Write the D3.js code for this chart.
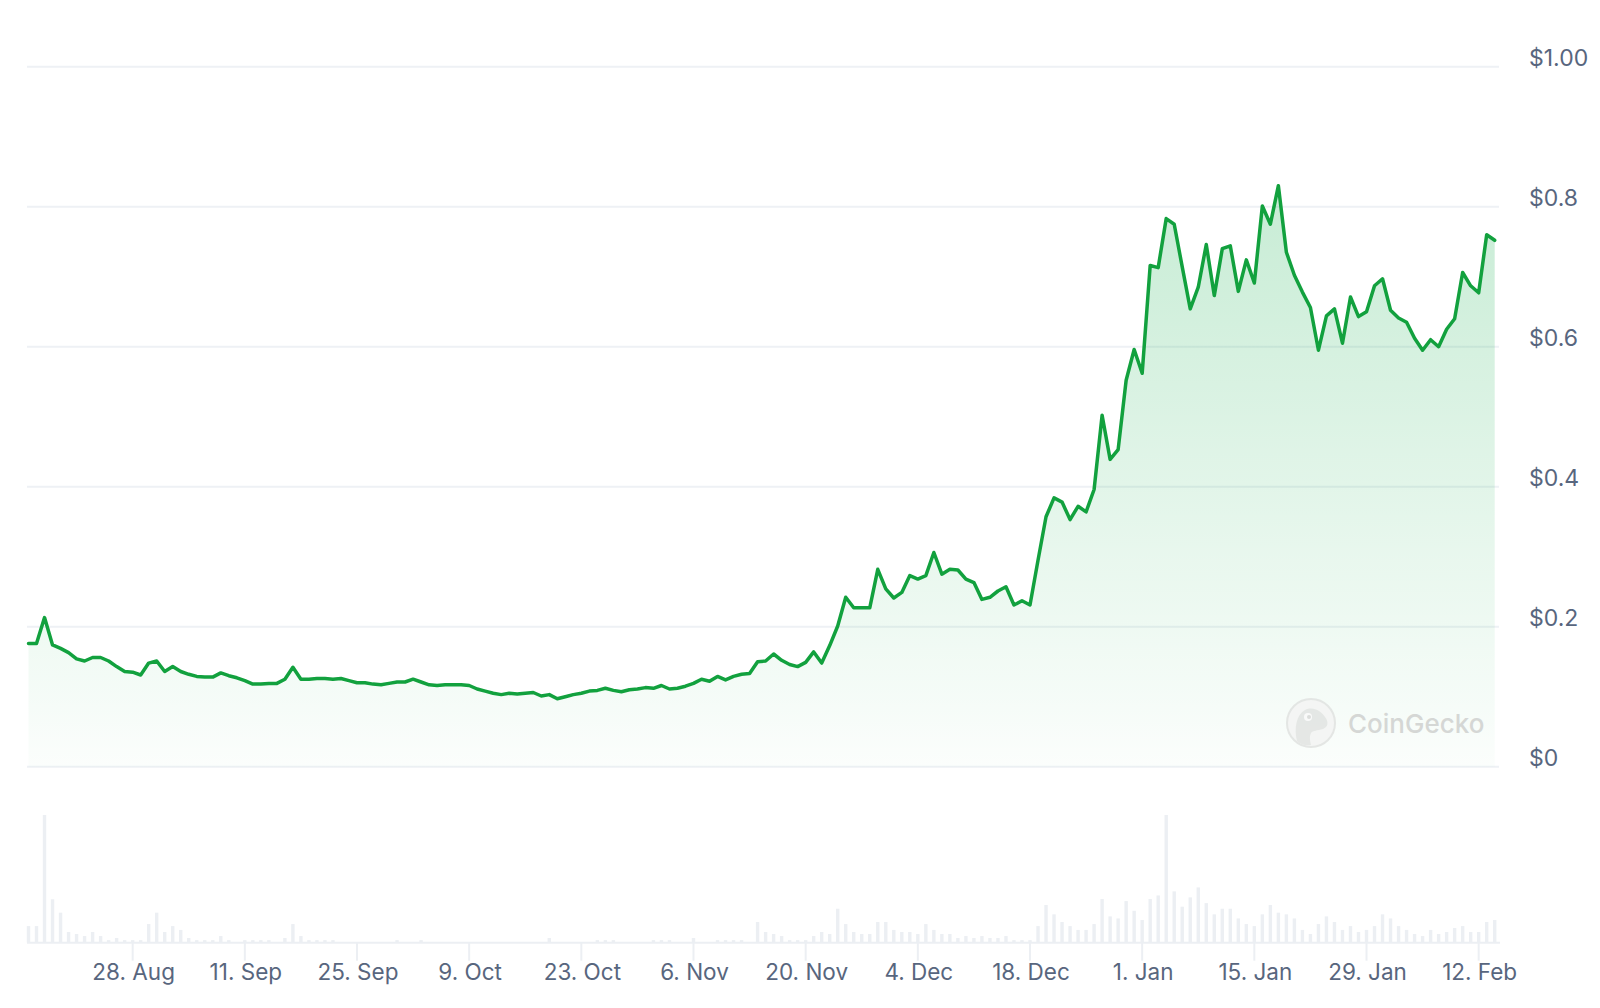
<!DOCTYPE html>
<html>
<head>
<meta charset="utf-8">
<script src="https://cdnjs.cloudflare.com/ajax/libs/d3/7.8.5/d3.min.js"></script>
<style>
  html, body { margin: 0; padding: 0; background: #fff; }
  svg { display: block; font-family: Inter, "Noto Sans", "DejaVu Sans", sans-serif; }
</style>
</head>
<body>
<div id="chart"></div>
<script>
// daily prices (USD), 15 Aug 2023 -> 14 Feb 2024
const startDay = new Date(Date.UTC(2023, 7, 15));
const prices = [
  0.176, 0.176, 0.213, 0.174, 0.169, 0.163, 0.154, 0.151, 0.156, 0.156,
  0.151, 0.143, 0.136, 0.135, 0.131, 0.148, 0.151, 0.136, 0.143, 0.136,
  0.132, 0.129, 0.128, 0.128, 0.134, 0.130, 0.127, 0.123, 0.118, 0.118,
  0.119, 0.119, 0.125, 0.142, 0.125, 0.125, 0.126, 0.126, 0.125, 0.126,
  0.123, 0.120, 0.120, 0.118, 0.117, 0.119, 0.121, 0.121, 0.125, 0.121,
  0.117, 0.116, 0.117, 0.117, 0.117, 0.116, 0.111, 0.108, 0.105, 0.103,
  0.105, 0.104, 0.105, 0.106, 0.101, 0.103, 0.097, 0.100, 0.103, 0.105,
  0.108, 0.109, 0.112, 0.109, 0.107, 0.110, 0.111, 0.113, 0.112, 0.116,
  0.111, 0.112, 0.115, 0.119, 0.125, 0.122, 0.129, 0.124, 0.129, 0.132,
  0.133, 0.150, 0.151, 0.161, 0.152, 0.146, 0.143, 0.149, 0.164, 0.148,
  0.173, 0.201, 0.242, 0.227, 0.227, 0.227, 0.282, 0.254, 0.241, 0.249,
  0.273, 0.268, 0.273, 0.306, 0.275, 0.282, 0.281, 0.268, 0.263, 0.239,
  0.242, 0.251, 0.257, 0.231, 0.237, 0.231, 0.295, 0.357, 0.384, 0.378,
  0.353, 0.372, 0.364, 0.396, 0.502, 0.439, 0.453, 0.552, 0.596, 0.562,
  0.716, 0.713, 0.783, 0.775, 0.714, 0.654, 0.685, 0.746, 0.673, 0.740,
  0.744, 0.679, 0.724, 0.691, 0.801, 0.775, 0.830, 0.735, 0.702, 0.678,
  0.656, 0.595, 0.644, 0.654, 0.605, 0.671, 0.643, 0.650, 0.687, 0.697,
  0.652, 0.641, 0.635, 0.612, 0.595, 0.610, 0.600, 0.625, 0.640, 0.706,
  0.687, 0.677, 0.760, 0.752
];
// traded volume, relative units (tallest day = 100)
const volumes = [
  13, 13, 100, 34, 23.5, 8.4, 6.8, 5.2, 8.4, 5.2,
  2, 3.7, 2, 2, 2, 14.6, 23.5, 8.4, 13, 10,
  3.7, 2, 2, 2, 5.2, 2, 0.5, 2, 2, 2,
  2, 0.5, 3.7, 14.6, 5.2, 2, 2, 2, 2, 0.3,
  0.3, 0.3, 0.3, 0.3, 0.3, 0.3, 2, 0.3, 0.3, 2,
  0.3, 0.3, 0.3, 0.3, 0.3, 0.3, 0.3, 0.3, 0.3, 0.3,
  0.3, 0.3, 0.3, 0.3, 0.3, 3.7, 0.3, 0.3, 0.3, 0.3,
  0.3, 2, 2, 2, 0.3, 0.3, 0.3, 0.3, 2, 2,
  2, 0.3, 0.3, 3.7, 0.3, 0.3, 2, 2, 2, 2,
  0.3, 16.2, 8.4, 6.8, 5.2, 2, 2, 2, 5.2, 8.4,
  6.8, 26.6, 14.6, 8.4, 6.8, 6.8, 16.2, 16.2, 10, 8.4,
  8.4, 6.8, 14.6, 10, 6.8, 6.8, 3.7, 5.2, 3.7, 5.2,
  3.7, 3.7, 5.2, 2, 2, 2, 13, 29.5, 22.2, 16.2,
  13, 10, 10, 14.6, 34.2, 20.6, 19, 32.6, 25, 17.8,
  34.2, 37, 100, 40.2, 28.2, 35.5, 43.3, 31, 22.2, 26.6,
  26.6, 19, 14.6, 13, 22.2, 29.5, 23.5, 22.2, 19, 10,
  6.8, 14.6, 20.6, 16.2, 10, 13, 8.4, 10, 13, 22.2,
  19, 13, 10, 6.8, 5.2, 10, 6.8, 8.4, 11.5, 13,
  8.4, 8.4, 16.2, 17.8
];
const priceTicks = [0, 0.2, 0.4, 0.6, 0.8, 1.0];
const priceTickLabels = ['$0', '$0.2', '$0.4', '$0.6', '$0.8', '$1.00'];
const dateTicks = ['2023-08-28', '2023-09-11', '2023-09-25', '2023-10-09', '2023-10-23', '2023-11-06',
  '2023-11-20', '2023-12-04', '2023-12-18', '2024-01-01', '2024-01-15', '2024-01-29', '2024-02-12'];

const W = 1600, H = 1008;
const data = prices.map((p, i) => ({ date: d3.utcDay.offset(startDay, i), price: p, vol: volumes[i] }));

const svg = d3.select('#chart').append('svg').attr('width', W).attr('height', H);
svg.append('rect').attr('width', W).attr('height', H).attr('fill', '#fff');

const x = d3.scaleUtc()
  .domain([data[0].date, data[data.length - 1].date])
  .range([28.5, 1494.7]);
const y = d3.scaleLinear().domain([0, 1]).range([766.7, 66.7]);
const yVol = d3.scaleLinear().domain([0, 100]).range([942.7, 815]);

// gradient under the price line
const defs = svg.append('defs');
const grad = defs.append('linearGradient').attr('id', 'fillGrad')
  .attr('x1', 0).attr('y1', 0).attr('x2', 0).attr('y2', 1);
grad.append('stop').attr('offset', '0%').attr('stop-color', '#00a83e').attr('stop-opacity', 0.22);
grad.append('stop').attr('offset', '100%').attr('stop-color', '#00a83e').attr('stop-opacity', 0.015);

// horizontal grid + price labels
const grid = svg.append('g');
grid.selectAll('line').data(priceTicks).join('line')
  .attr('x1', 27).attr('x2', 1499)
  .attr('y1', d => y(d)).attr('y2', d => y(d))
  .attr('stroke', '#eef1f5').attr('stroke-width', 2);
grid.selectAll('text').data(priceTicks).join('text')
  .attr('x', 1529).attr('y', d => y(d) - 9)
  .attr('dominant-baseline', 'central')
  .attr('fill', '#58667e').attr('font-size', 23)
  .text((d, i) => priceTickLabels[i]);

// area + line
svg.append('path').datum(data)
  .attr('d', d3.area().x(d => x(d.date)).y0(y(0)).y1(d => y(d.price)))
  .attr('fill', 'url(#fillGrad)');

// watermark
const wm = svg.append('g').attr('transform', 'translate(1311,723)').attr('opacity', 0.9);
wm.append('circle').attr('r', 24).attr('fill', '#f4f5f4').attr('stroke', '#e2e4e2').attr('stroke-width', 2);
wm.append('path')
  .attr('d', 'M-14,18 C-17,6 -15,-8 -6,-13 C2,-17 10,-12 14,-6 C18,-1 17,4 12,6 C6,8 2,7 0,10 C-2,14 -1,18 0,22 C-6,23 -11,21 -14,18 Z')
  .attr('fill', '#e3e5e3');
wm.append('circle').attr('cx', -3).attr('cy', -6).attr('r', 4).attr('fill', '#fafafa');
wm.append('circle').attr('cx', -2).attr('cy', -6).attr('r', 2).attr('fill', '#d8dad8');
svg.append('text')
  .attr('x', 1348).attr('y', 723)
  .attr('dominant-baseline', 'central')
  .attr('fill', '#d5d7d5').attr('font-size', 26).attr('font-weight', 500)
  .text('CoinGecko');

svg.append('path').datum(data)
  .attr('d', d3.line().x(d => x(d.date)).y(d => y(d.price)))
  .attr('fill', 'none')
  .attr('stroke', '#12a13e').attr('stroke-width', 3.5)
  .attr('stroke-linejoin', 'round').attr('stroke-linecap', 'round');

// volume bars
svg.append('g').selectAll('rect').data(data).join('rect')
  .attr('x', d => x(d.date) - 1.7).attr('width', 3.4)
  .attr('y', d => yVol(d.vol)).attr('height', d => yVol(0) - yVol(d.vol))
  .attr('fill', '#eceff3');

// x axis
const xAxis = svg.append('g');
xAxis.append('line').attr('x1', 27).attr('x2', 1500)
  .attr('y1', yVol(0)).attr('y2', yVol(0))
  .attr('stroke', '#eceff3').attr('stroke-width', 2);
const tickDates = dateTicks.map(s => new Date(s + 'T00:00:00Z'));
const fmt = d3.utcFormat('%-d. %b');
xAxis.selectAll('line.tick').data(tickDates).join('line').attr('class', 'tick')
  .attr('x1', d => x(d)).attr('x2', d => x(d))
  .attr('y1', yVol(0)).attr('y2', yVol(0) + 18)
  .attr('stroke', '#eceff3').attr('stroke-width', 2);
xAxis.selectAll('text').data(tickDates).join('text')
  .attr('x', d => x(d) + 1).attr('y', 971)
  .attr('text-anchor', 'middle').attr('dominant-baseline', 'central')
  .attr('fill', '#58667e').attr('font-size', 22.5)
  .text(d => fmt(d));
</script>
</body>
</html>
